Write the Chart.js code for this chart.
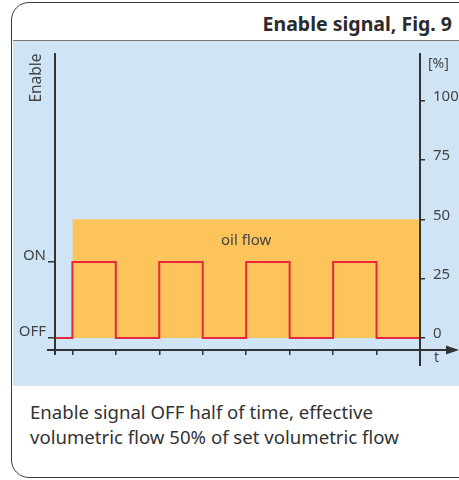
<!DOCTYPE html>
<html>
<head>
<meta charset="utf-8">
<script src="https://cdn.jsdelivr.net/npm/chart.js@4"></script>
<style>
html, body { margin: 0; padding: 0; background: #fff; }
body { width: 459px; height: 480px; position: relative; overflow: hidden; font-family: "Noto Sans", sans-serif; }
#frame { position: absolute; left: 11px; top: 2px; width: 500px; height: 474px; border: 1.5px solid #3a3a3a; border-radius: 18px 0 0 18px; }
#title { position: absolute; right: 7px; top: 10px; font-weight: bold; font-size: 19.5px; color: #2b2b2b; }
#panel { position: absolute; left: 13px; top: 40px; width: 460px; height: 345px; background: #cfe5f5; border-top: 1px solid #777; }
#caption { position: absolute; left: 30px; top: 399px; font-size: 18.6px; line-height: 25px; color: #333; }
#chart { position: absolute; left: 0; top: 0; }
</style>
</head>
<body>
<div id="frame"></div>
<div id="title">Enable signal, Fig. 9</div>
<div id="panel"></div>
<div id="caption">Enable signal OFF half of time, effective<br>volumetric flow 50% of set volumetric flow</div>
<canvas id="chart" width="459" height="480"></canvas>
<script>
// switching times of the enable signal and its level (OFF = 0, ON drawn at 32 on the % scale)
const times = [-0.4, 0, 1, 2, 3, 4, 5, 6, 7, 8];
const enable = [0, 32, 0, 32, 0, 32, 0, 32, 0, 0];
// resulting oil flow, 50 %
const flowTimes = [0, 8];
const flowLevel = [50, 50];
const percentTicks = [0, 25, 50, 75, 100];
const enableTickValues = [0, 32];
const enableTickLabels = ['OFF', 'ON'];
const timeTicks = [0, 1, 2, 3, 4, 5, 6, 7];

const axisColor = '#333';
const textColor = '#444';
const fontFamily = '"Noto Sans", sans-serif';

const overlay = {
  id: 'overlay',
  afterDraw(chart) {
    const { ctx, chartArea: a, scales } = chart;
    ctx.save();
    ctx.strokeStyle = axisColor;
    ctx.lineWidth = 2;
    ctx.beginPath();
    ctx.moveTo(a.left, a.top); ctx.lineTo(a.left, a.bottom + 5);
    ctx.moveTo(a.right, a.top); ctx.lineTo(a.right, a.bottom + 16);
    ctx.moveTo(a.left - 8, a.bottom); ctx.lineTo(a.right + 30, a.bottom);
    ctx.stroke();
    // arrow on the time axis
    ctx.fillStyle = axisColor;
    ctx.beginPath();
    ctx.moveTo(459, a.bottom);
    ctx.lineTo(446, a.bottom - 4.5);
    ctx.lineTo(446, a.bottom + 4.5);
    ctx.closePath();
    ctx.fill();

    ctx.fillStyle = textColor;
    ctx.font = '14px ' + fontFamily;
    ctx.textBaseline = 'middle';
    ctx.textAlign = 'left';
    ctx.fillText('[%]', a.right + 8, 64);
    ctx.fillText('t', a.right + 14, a.bottom + 8);
    ctx.font = '15px ' + fontFamily;
    ctx.textAlign = 'center';
    ctx.fillText('oil flow', scales.x.getPixelForValue(4), scales.y.getPixelForValue(41));
    ctx.font = '15.5px ' + fontFamily;
    ctx.translate(37, 78);
    ctx.rotate(-Math.PI / 2);
    ctx.fillText('Enable', 0, 0);
    ctx.restore();
  }
};

new Chart(document.getElementById('chart'), {
  type: 'line',
  data: {
    datasets: [{
      label: 'Enable',
      data: times.map((t, i) => ({ x: t, y: enable[i] })),
      stepped: true,
      borderColor: '#e8283c',
      borderWidth: 2,
      pointRadius: 0,
      fill: false,
      yAxisID: 'y'
    }, {
      label: 'oil flow',
      data: flowTimes.map((t, i) => ({ x: t, y: flowLevel[i] })),
      borderWidth: 0,
      borderColor: 'rgba(0,0,0,0)',
      backgroundColor: '#fdc45c',
      pointRadius: 0,
      fill: 'origin',
      yAxisID: 'y'
    }]
  },
  options: {
    responsive: false,
    animation: false,
    layout: { padding: { top: 53, left: 0, right: 0, bottom: 0 } },
    plugins: { legend: { display: false }, tooltip: { enabled: false } },
    scales: {
      x: {
        type: 'linear',
        min: -0.4,
        max: 8,
        afterBuildTicks: s => { s.ticks = timeTicks.map(v => ({ value: v })); },
        afterFit: s => { s.height = 130; },
        border: { display: false },
        grid: { drawOnChartArea: false, tickLength: 5, color: axisColor, lineWidth: 1.5 },
        ticks: { callback: () => '' }
      },
      yL: {
        position: 'left',
        min: -5,
        max: 120,
        afterBuildTicks: s => { s.ticks = enableTickValues.map(v => ({ value: v })); },
        afterFit: s => { s.width = 55; },
        border: { display: false },
        grid: { drawOnChartArea: false, tickLength: 7, color: axisColor, lineWidth: 1.5 },
        ticks: {
          padding: 2,
          labelOffset: -6,
          color: textColor,
          font: { family: fontFamily, size: 15 },
          callback: (v) => enableTickLabels[enableTickValues.indexOf(v)]
        }
      },
      y: {
        position: 'right',
        min: -5,
        max: 120,
        afterBuildTicks: s => { s.ticks = percentTicks.map(v => ({ value: v })); },
        afterFit: s => { s.width = 39; },
        border: { display: false },
        grid: { drawOnChartArea: false, tickLength: 5, color: axisColor, lineWidth: 1.5 },
        ticks: {
          padding: 8,
          labelOffset: -4,
          color: textColor,
          font: { family: fontFamily, size: 15 }
        }
      }
    }
  },
  plugins: [overlay]
});
</script>
</body>
</html>
